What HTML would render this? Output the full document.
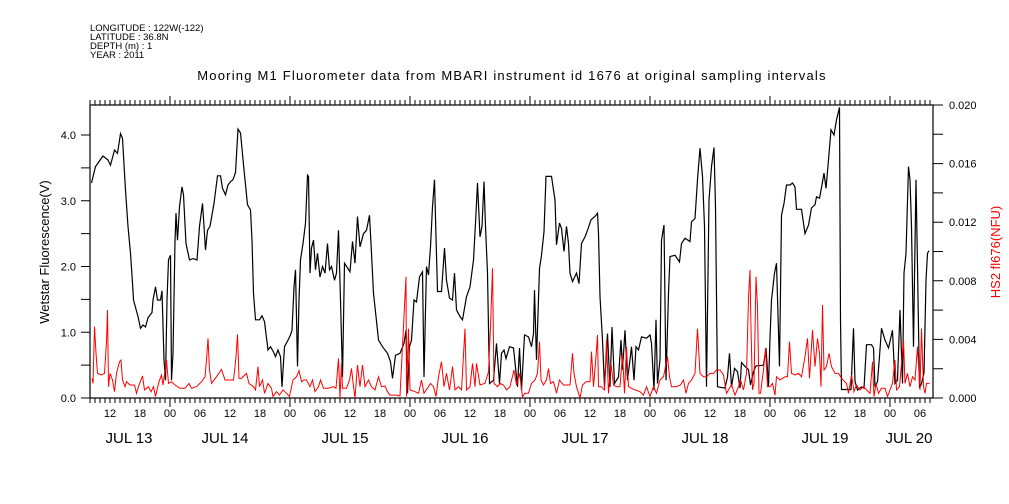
<!DOCTYPE html>
<html><head><meta charset="utf-8"><style>
body{margin:0;background:#fff;}
svg{display:block;font-family:"Liberation Sans",sans-serif;}
</style></head><body>
<svg id="chart" width="1009" height="504">
<g font-size="9.5" fill="#000">
<text x="90" y="31">LONGITUDE : 122W(-122)</text>
<text x="90" y="40">LATITUDE : 36.8N</text>
<text x="90" y="49">DEPTH (m) : 1</text>
<text x="90" y="58">YEAR : 2011</text>
</g>
<text x="512" y="80" font-size="13" text-anchor="middle" letter-spacing="1.2">Mooring M1 Fluorometer data from MBARI instrument id 1676 at original sampling intervals</text>
<text transform="translate(49,252) rotate(-90)" font-size="13" text-anchor="middle">Wetstar Fluorescence(V)</text>
<text transform="translate(1000,252) rotate(-90)" font-size="13" fill="#f00" text-anchor="middle">HS2 fl676(NFU)</text>
<g id="axes"></g>
<g id="series"></g>
</svg>
<script>
const blackT=[8.3,9.1,10.3,10.6,11.6,12.1,12.9,13.5,14.1,14.5,15.1,15.6,16.1,16.5,16.7,17.6,18.1,18.6,19.1,19.6,20.4,20.6,21.1,21.5,22.1,22.4,22.8,23.1,23.4,23.7,24.1,24.3,24.6,25,25.2,25.5,25.9,26.4,26.7,27.2,27.9,28.6,29.4,29.9,30.5,30.8,31.1,31.5,32,32.8,33.5,34.1,34.5,35.1,35.6,36.1,36.6,37.1,37.6,38.1,38.8,39.5,40.1,40.4,40.7,41.1,41.9,42.4,42.9,43.6,44.1,44.7,45.1,45.6,46.1,46.4,46.9,47.6,48.1,48.4,48.8,49.1,49.5,49.8,50.1,50.6,51.1,51.5,51.7,52,52.3,52.7,53.1,53.5,54,54.5,55,55.5,55.9,56.3,56.9,57.3,57.7,58.1,58.5,58.9,60,60.5,61,61.5,62,62.7,63.3,63.9,64.3,64.7,65.2,65.7,66.5,67.5,68.1,68.5,69.1,70,70.8,71.2,71.5,71.9,72.3,72.8,73.3,73.9,74.5,74.8,75.3,75.7,76.1,76.5,76.9,77.2,77.5,78.3,78.9,79.3,79.9,80.5,80.9,81.3,82,82.5,83.3,84,84.7,85.1,85.5,86,86.4,86.8,87.1,87.5,87.9,88.7,89.3,89.9,90.3,90.8,91.2,91.9,92.7,93.5,93.9,94.3,94.9,95.7,96.3,96.7,96.9,97.3,97.9,98.3,98.8,99.2,100.3,101,101.3,101.9,102.3,102.8,103.3,103.7,104,104.5,105.3,105.8,106.3,107,107.5,108.2,109,109.5,109.7,110,110.5,110.9,111.5,112,112.4,112.9,113.7,114.2,114.5,115,115.5,116,116.3,116.8,117.2,117.7,118.3,119.3,120,120.3,120.8,121.2,121.5,122,122.3,122.8,123.2,123.7,124,125,125.9,126.3,127,128,128.3,129,129.5,130,130.5,130.9,131.3,131.8,132.3,132.8,133.1,133.5,135,135.5,135.9,136.3,136.9,137.5,138,138.3,139,139.7,140.1,140.7,141.2,141.7,142.7,143.2,143.7,144,144.3,144.9,145.3,145.9,146.3,146.8,147.3,148,148.5,149,149.3,150.3,151,151.7,152.3,153,153.3,153.9,154.3,154.8,155.2,155.7,156.2,156.8,157.3,157.9,158.1,158.3,159.3,160.2,160.7,161,161.5,162.3,162.8,163.3,164.3,164.7,165,165.5,165.9,166.3,167,167.7,168.5,169,169.5,170,170.5,170.8,171.2,171.7,172,172.3,172.7,172.9,173.2,173.5,173.9,174.3,174.8,175.2,175.5,175.8];
const blackV=[3.27,3.52,3.65,3.68,3.62,3.54,3.77,3.72,4.02,3.95,3.16,2.61,2.2,1.75,1.49,1.24,1.06,1.11,1.08,1.22,1.30,1.49,1.69,1.49,1.49,1.63,0.58,0.27,1.49,2.1,2.17,0.27,0.68,2.38,2.81,2.4,2.91,3.21,3.09,2.35,2.1,2.12,2.1,2.61,2.96,2.61,2.25,2.55,2.61,2.96,3.38,3.38,3.19,3.09,3.24,3.29,3.32,3.43,4.09,4.03,3.47,2.94,2.86,2.40,1.59,1.19,1.19,1.25,1.16,0.73,0.78,0.70,0.63,0.73,0.63,0.17,0.78,0.88,0.96,1.03,1.69,1.95,0.48,1.49,2.10,2.35,2.66,3.39,3.37,1.90,2.28,2.4,1.95,2.2,1.84,2.0,1.90,2.35,1.95,2.0,1.79,1.90,2.55,1.49,0.32,2.05,1.92,2.38,2.05,2.76,2.3,2.5,2.55,2.78,2.2,1.59,1.24,0.88,0.78,0.68,0.55,0.30,0.65,0.68,0.83,1.03,0.07,0.78,0.88,1.49,1.46,1.84,1.92,0.32,2.0,1.87,2.3,2.91,3.32,2.45,1.62,1.62,2.28,1.79,1.52,1.49,1.90,1.34,1.24,1.19,1.54,1.69,2.1,2.66,3.27,2.45,2.61,3.29,2.61,1.9,0.22,0.27,0.83,0.22,0.68,0.73,0.60,0.78,0.76,0.17,0.76,0.12,0.96,0.93,0.78,0.98,1.64,0.58,1.97,2.17,2.53,3.37,3.37,3.01,2.33,2.66,2.58,2.23,2.61,2.35,1.90,1.77,1.90,1.74,2.35,2.45,2.55,2.71,2.76,2.81,2.5,1.54,0.88,0.17,0.98,0.17,1.08,0.22,0.32,0.88,0.43,1.03,0.27,0.58,0.78,0.27,0.78,0.73,0.93,0.91,0.96,0.83,0.12,1.19,0.22,0.58,2.40,2.63,0.27,1.59,2.15,2.17,2.07,2.35,2.43,2.38,2.68,2.73,3.32,3.80,3.37,2.61,0.17,3.01,3.52,3.81,2.91,0.17,0.15,0.32,0.68,0.17,0.45,0.40,0.15,0.54,0.48,0.43,0.2,0.40,0.49,0.49,0.50,0.76,0.18,0.91,1.49,1.90,2.05,0.48,2.78,2.96,3.24,3.24,3.27,3.21,2.87,2.87,2.5,2.63,2.89,2.94,3.06,3.04,3.2,3.42,3.19,3.62,4.08,4.0,4.23,4.42,1.19,0.13,0.13,0.13,1.06,0.25,0.12,0.17,0.15,0.81,0.81,0.76,0.17,0.25,0.63,1.06,0.88,0.76,1.03,0.22,0.27,1.34,0.22,1.90,2.2,3.52,3.32,2.61,0.78,1.84,3.32,2.0,0.15,0.22,0.38,1.79,2.2,2.24];
const redT=[8.4,8.6,8.9,9.2,9.5,10.3,10.9,11.3,11.5,11.7,12,12.5,12.9,13.3,13.9,14.2,14.5,15,15.3,16,16.9,17.3,17.7,18.5,18.9,19.7,20.2,20.7,21.1,21.8,22.3,22.6,23.3,23.7,24.3,25,26,27,27.8,28.3,29.3,30.3,31,31.3,31.6,31.9,32.3,33.3,34.3,35,36,36.7,37,37.2,37.5,37.8,38.3,39.3,39.8,40.7,41.1,41.6,41.9,42.5,42.9,43.6,44.3,44.6,45.3,45.9,46.6,47.3,47.9,48.6,49.3,49.8,50.3,50.8,51.3,52,52.5,53,53.7,54.1,54.7,55.7,56.7,57.2,57.7,58,58.3,58.5,59.3,59.9,60.3,60.7,61,61.5,62,62.5,63,63.7,64.3,65,65.7,66.3,67,67.5,68,69.3,70,71.2,71.3,71.7,72,73,73.7,74.3,74.8,75.7,76.1,76.7,77.2,77.7,78.3,78.8,79.3,79.9,80.5,81,81.7,82.3,83,83.3,84,84.5,85,85.3,86,87,87.7,88.1,88.5,88.8,89.5,90,90.7,91.3,92,92.8,93.3,93.9,94.5,95,95.7,96.3,97,97.5,97.9,98.2,98.7,99.3,99.7,100.1,100.7,101.3,101.9,102.7,104,104.5,104.8,105.3,106,106.5,107.2,108,108.3,108.7,109.2,109.5,109.7,110.3,110.9,111.3,111.7,112.2,112.7,113.3,114,114.5,114.9,115.3,115.7,116.3,117,118,118.7,119.3,120,120.7,121.3,122,122.7,123.1,123.5,123.9,124.3,125.3,126.1,126.7,127.2,127.7,128.3,129,129.5,130,130.7,131.3,132,132.7,133.3,134,134.7,135.3,135.9,136.3,137,137.7,138.1,138.7,139.3,139.7,140,140.2,140.5,140.8,141.2,141.5,141.8,142.1,142.7,143.1,143.5,144,144.5,145,145.3,146,147,147.5,147.9,148.3,149,149.7,150.3,151,151.5,151.9,152.5,153,153.5,153.9,154.2,154.5,154.8,155.3,155.8,156.3,157,157.7,158.3,159.3,159.7,160.3,160.8,161.3,162,162.7,163.3,164,164.5,164.8,165.2,165.7,166.3,167,167.5,168,168.5,169,169.3,169.9,170.3,170.7,171,171.5,172,172.5,173,173.5,174,174.3,174.7,175,175.3,175.9];
const redV=[0.00134,0.0010,0.00487,0.00305,0.00168,0.00157,0.00168,0.00384,0.00601,0.00077,0.00168,0.00123,0.00043,0.00168,0.00248,0.00259,0.00123,0.00077,0.00111,0.00089,0.00089,0.00032,0.00077,0.00151,0.00055,0.00077,0.00043,0.00077,0.0001,0.00111,0.00157,0.00089,0.00259,0.001,0.00111,0.00089,0.00066,0.00066,0.001,0.00066,0.00077,0.00111,0.00145,0.00259,0.00407,0.00191,0.001,0.00145,0.00195,0.00123,0.00123,0.00123,0.00214,0.00282,0.00434,0.00134,0.00134,0.00168,0.001,0.00077,0.00055,0.00214,0.00077,0.00123,0.00032,0.001,0.00066,0.0001,0.00043,0.0002,0.00055,0.00032,0.0001,0.00123,0.00145,0.00187,0.00111,0.00123,0.00123,0.00077,0.00123,0.00043,0.00077,0.00123,0.00066,0.00066,0.00077,0.00066,0.0027,0,0.00236,0.00066,0.00066,0.00123,0.00202,0.00077,0,0.00225,0.00077,0.00225,0.00077,0.00123,0.00077,0.00055,0.00145,0.00077,0.00082,0.00043,0.0002,0.0002,0.00014,0.00828,0.0001,0.00473,0.00055,0.00043,0.00032,0.00123,0.00032,0.00077,0.001,0.00077,0.0001,0.00145,0.00248,0.00077,0.00168,0.00055,0.00214,0.00055,0.00077,0.00055,0.00473,0.00055,0.00077,0.00236,0.00077,0.00236,0.00089,0.001,0.0018,0.00487,0.00885,0.001,0.00077,0.001,0.00089,0.00055,0.00077,0.00191,0.00089,0.00168,0.0001,0.00032,0.00032,0.001,0.00123,0.00168,0.00384,0.00123,0.00089,0.00123,0.00202,0.001,0.00111,0.00032,0.00123,0.00089,0.00089,0.00305,0.00168,0.00077,0,0.00089,0.00111,0.00111,0.00316,0.00077,0.00282,0.0043,0.00077,0.00077,0.00055,0.00395,0.00032,0.00236,0.00089,0.00077,0.00077,0.00305,0.00032,0.0035,0.00077,0.00066,0.00055,0.00043,0.0002,0.00077,0.0001,0.00077,0.00032,0.00123,0.00145,0.00214,0.00282,0.00145,0.00077,0.00077,0.00089,0.00123,0.00032,0.001,0.00123,0.00168,0.00473,0.00168,0.00145,0.00145,0.00168,0.00168,0.00191,0.00191,0.00157,0.00032,0.00066,0.00089,0.0002,0.00077,0.00123,0.00055,0.00168,0.00687,0.00874,0.00473,0.00055,0.001,0.00828,0.00623,0.00032,0.00032,0.00191,0.00339,0.00077,0.00077,0.001,0.0002,0.00145,0.00123,0.00145,0.00145,0.00384,0.00168,0.00157,0.00168,0.00145,0.00282,0.00407,0.00134,0.00464,0.00214,0.00407,0.00305,0.00077,0.00635,0.00191,0.00214,0.00305,0.00214,0.00168,0.00168,0.00134,0.001,0.00032,0.00157,0.00043,0.00089,0.00055,0.00077,0.00055,0.00032,0.00248,0.0001,0.001,0.00032,0.00066,0.00066,0.0001,0.00055,0.001,0.00259,0.00055,0.00077,0.00236,0.00395,0.001,0.00168,0.00077,0.00145,0.00123,0.0035,0.00055,0.00473,0.00077,0.00032,0.001,0.001];
const leftTicks=[0,0.5,1,1.5,2,2.5,3,3.5,4];
const leftLabels=["0.0","1.0","2.0","3.0","4.0"];
const rightTicks=[0,0.002,0.004,0.006,0.008,0.010,0.012,0.014,0.016,0.018,0.020];
const rightLabels=["0.000","0.004","0.008","0.012","0.016","0.020"];
const hourLabels=["12","18","00","06"];
const dayLabels=["JUL 13","JUL 14","JUL 15","JUL 16","JUL 17","JUL 18","JUL 19","JUL 20"];

const X0=90,X1=933,Y0=398,Y1=105;
const xs=h=>50+h*5;
const yL=v=>Y0-v*65.75;
const yR=v=>Y0-v/0.02*(Y0-Y1);
const NS="http://www.w3.org/2000/svg";
function mk(tag,attrs,parent){const e=document.createElementNS(NS,tag);for(const k in attrs)e.setAttribute(k,attrs[k]);parent.appendChild(e);return e;}
const axes=document.getElementById('axes'), ser=document.getElementById('series');

let frame=mk('rect',{x:X0,y:Y1,width:X1-X0,height:Y0-Y1,fill:'none',stroke:'#000','stroke-width':1.2},axes);



let tk='';
for(let h=8;h<=176;h++){const x=xs(h);if(x<X0||x>X1)continue;const big=h%24===0;
 tk+=`M${x},${Y0}v${big?9:5}M${x},${Y1}v${big?-9:-5}`;}
let tp=mk('path',{d:tk,stroke:'#000','stroke-width':1,fill:'none'},axes);


for(let h=12;h<=176;h+=6){const x=xs(h);if(x<X0||x>X1)continue;
 const t=mk('text',{x:x,y:417,'font-size':11,'text-anchor':'middle'},axes);t.textContent=hourLabels[((h/6)-2)%4];
 
 }
dayLabels.forEach((d,i)=>{let x=xs(i*24+12)-5;if(i===0)x=129;if(i===7)x=909;
 const t=mk('text',{x:x,y:443,'font-size':15,'text-anchor':'middle'},axes);t.textContent=d;
 
 });
let lt='';leftTicks.forEach(v=>{lt+=`M${X0},${yL(v)}h-9`;});
let lp=mk('path',{d:lt,stroke:'#000',fill:'none'},axes);


leftLabels.forEach((s,i)=>{const t=mk('text',{x:76,y:yL(i)+4,'font-size':11,'text-anchor':'end'},axes);t.textContent=s;
 
 });
let rt='';rightTicks.forEach(v=>{rt+=`M${X1},${yR(v)}h10`;});
let rp=mk('path',{d:rt,stroke:'#000',fill:'none'},axes);


rightLabels.forEach((s,i)=>{const t=mk('text',{x:949,y:yR(i*0.004)+4,'font-size':11},axes);t.textContent=s;
 
 });
let d1=blackT.map((t,i)=>(i?'L':'M')+xs(t).toFixed(1)+','+yL(blackV[i]).toFixed(1)).join('');
let p1=mk('path',{d:d1,stroke:'#000','stroke-width':1.2,fill:'none'},ser);


let d2=redT.map((t,i)=>(i?'L':'M')+xs(t).toFixed(1)+','+yR(redV[i]).toFixed(1)).join('');
let p2=mk('path',{d:d2,stroke:'#f00','stroke-width':1,fill:'none'},ser);


</script>
</body></html>
